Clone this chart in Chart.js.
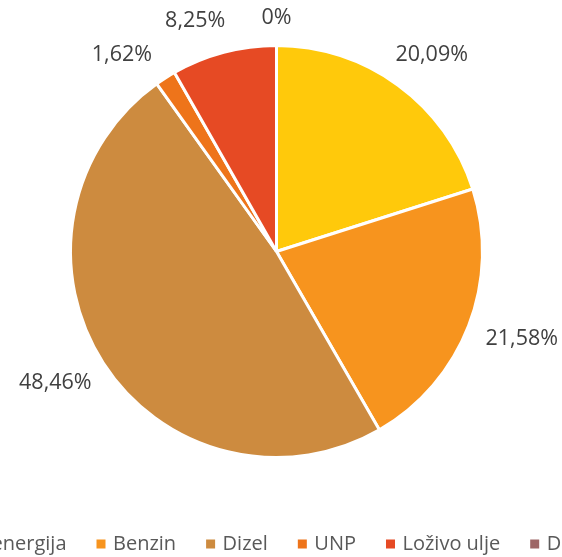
<!DOCTYPE html>
<html>
<head>
<meta charset="utf-8">
<script src="https://cdn.jsdelivr.net/npm/chart.js@4"></script>
<style>
html,body{margin:0;padding:0;background:#fff;overflow:hidden;}
canvas{display:block;}
</style>
</head>
<body>
<canvas id="c" width="562" height="557"></canvas>
<script>
const categories = ['Električna energija', 'Benzin', 'Dizel', 'UNP', 'Loživo ulje', 'Drvo'];
const shares = [20.09, 21.58, 48.46, 1.62, 8.25, 0];
const valueLabels = ['20,09%', '21,58%', '48,46%', '1,62%', '8,25%', '0%'];
const sliceColors = ['#FFC90B', '#F7941E', '#CD8B3F', '#EE741A', '#E64A24', '#9E6767'];

const FONT = '"Open Sans", "Liberation Sans", sans-serif';

const labelPlugin = {
  id: 'outLabels',
  afterDatasetsDraw(chart) {
    const ctx = chart.ctx;
    const arcs = chart.getDatasetMeta(0).data;
    const angles = arcs.map(a => (a.startAngle + a.endAngle) / 2);
    const sep = 18 * Math.PI / 180;
    for (let i = angles.length - 2; i >= 0; i--) {
      if (angles[i] > angles[i + 1] - sep && angles[i + 1] - angles[i] < Math.PI / 2) {
        angles[i] = angles[i + 1] - sep;
      }
    }
    const cx = arcs[0].x, cy = arcs[0].y, r = arcs[0].outerRadius;
    const rx = r + 57, ry = r + 37;
    ctx.save();
    ctx.font = '21.5px ' + FONT;
    ctx.fillStyle = '#404040';
    ctx.textAlign = 'center';
    ctx.textBaseline = 'middle';
    arcs.forEach((a, i) => {
      let x = cx + rx * Math.cos(angles[i]);
      let y = cy + ry * Math.sin(angles[i]);
      if (y < 18) y = 18;
      ctx.fillText(valueLabels[i], x, y);
    });
    ctx.restore();
  }
};

const legendPlugin = {
  id: 'rowLegend',
  afterDraw(chart) {
    const ctx = chart.ctx;
    ctx.save();
    ctx.font = '20px ' + FONT;
    ctx.textBaseline = 'middle';
    const box = 9, boxGap = 7.5, itemGap = 30, y = 544;
    const w0 = ctx.measureText(categories[0]).width;
    let x = 66.5 - w0 - boxGap - box;
    categories.forEach((c, i) => {
      ctx.fillStyle = sliceColors[i];
      ctx.fillRect(x, y - box / 2, box, box);
      x += box + boxGap;
      ctx.fillStyle = '#595959';
      ctx.fillText(c, x, y);
      x += ctx.measureText(c).width + itemGap;
    });
    ctx.restore();
  }
};

new Chart(document.getElementById('c'), {
  type: 'pie',
  data: {
    labels: categories,
    datasets: [{
      data: shares,
      backgroundColor: sliceColors,
      borderColor: '#ffffff',
      borderWidth: 3
    }]
  },
  options: {
    responsive: false,
    animation: false,
    layout: { padding: { top: 44, bottom: 98, left: 69, right: 78 } },
    plugins: {
      legend: { display: false },
      tooltip: { enabled: false }
    }
  },
  plugins: [labelPlugin, legendPlugin]
});
</script>
</body>
</html>
